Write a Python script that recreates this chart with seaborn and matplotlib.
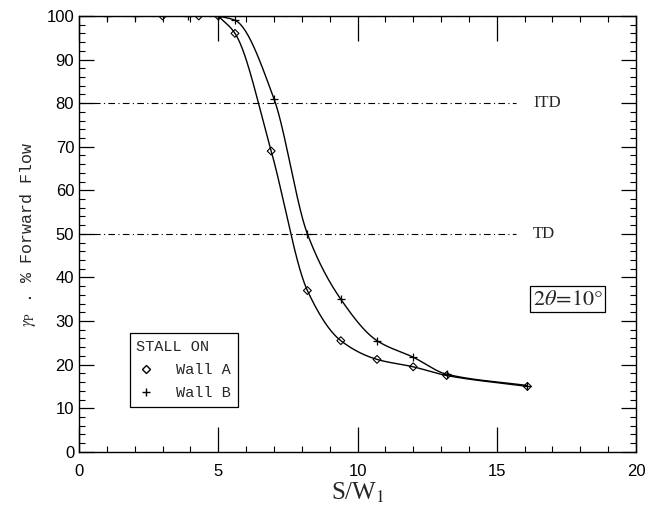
import numpy as np
import pandas as pd
import seaborn as sns
import matplotlib.pyplot as plt
from matplotlib.ticker import MultipleLocator

xa = [3.0, 4.3, 5.0, 5.6, 6.9, 8.2, 9.4, 10.7, 12.0, 13.2, 16.1]
ya = [100, 100, 100, 96, 69, 37, 25.5, 21.2, 19.5, 17.5, 15.0]
xb = [1.0, 2.0, 3.9, 5.0, 5.6, 7.0, 8.2, 9.4, 10.7, 12.0, 13.2, 16.1]
yb = [100, 100, 100, 100, 99, 81, 50, 35, 25.5, 21.7, 17.8, 15.2]

ref_levels = [80, 50]
ref_labels = ["ITD", "TD"]


def pchip(x, y, n=400):
    # monotone cubic for drawing the smooth curve through the points
    x = np.asarray(x, float); y = np.asarray(y, float)
    h = np.diff(x); d = np.diff(y) / h
    m = np.zeros_like(x)
    for k in range(1, len(x) - 1):
        if d[k - 1] * d[k] > 0:
            w1 = 2 * h[k] + h[k - 1]; w2 = h[k] + 2 * h[k - 1]
            m[k] = (w1 + w2) / (w1 / d[k - 1] + w2 / d[k])
    m[0] = d[0]; m[-1] = d[-1]
    xs = np.linspace(x[0], x[-1], n)
    i = np.clip(np.searchsorted(x, xs) - 1, 0, len(h) - 1)
    t = (xs - x[i]) / h[i]
    h00 = 2*t**3 - 3*t**2 + 1; h10 = t**3 - 2*t**2 + t
    h01 = -2*t**3 + 3*t**2; h11 = t**3 - t**2
    ys = h00*y[i] + h10*h[i]*m[i] + h01*y[i+1] + h11*h[i]*m[i+1]
    return xs, ys


sns.set_style("ticks")
plt.rcParams["font.family"] = ["Liberation Sans", "DejaVu Sans"]
plt.rcParams["mathtext.fontset"] = "stix"

fig = plt.figure(figsize=(6.53, 5.14), dpi=100)
ax = fig.add_axes([0.121, 0.121, 0.853, 0.848])

# curves start where the points leave 100 %
for xs, ys, k in (xa, ya, 2), (xb, yb, 3):
    sx, sy = pchip(xs[k:], ys[k:])
    sns.lineplot(x=sx, y=sy, ax=ax, color="black", lw=1.0, sort=False, estimator=None)

sns.scatterplot(x=xa, y=ya, marker="D", s=16, facecolor="none", edgecolor="black",
                linewidth=0.8, ax=ax, zorder=5)
sns.scatterplot(x=xb, y=yb, marker="+", s=40, color="black", linewidth=0.9, ax=ax, zorder=5)

for lev, lab in zip([100] + ref_levels, [""] + ref_labels):
    ax.plot([0, 15.7], [lev, lev], color="black", lw=0.8, ls=(0, (6, 3, 1, 3)))
    if lab:
        ax.text(16.3, lev, lab, family="Liberation Serif", fontsize=12, va="center")

ax.text(17.55, 35, r"$2\theta\!=\!10°$", fontsize=16, ha="center", va="center",
        bbox=dict(boxstyle="square,pad=0.12", fc="white", ec="black", lw=0.9))

h1 = plt.Line2D([], [], ls="none", marker="D", mfc="none", mec="black", ms=4)
h2 = plt.Line2D([], [], ls="none", marker="+", color="black", ms=6)
leg = ax.legend([h1, h2], ["Wall A", "Wall B"], title="STALL ON", loc="upper left",
                bbox_to_anchor=(0.077, 0.29), fancybox=False, framealpha=1,
                edgecolor="black", alignment="left", handlelength=1.2, handletextpad=1.4,
                prop={"family": "Liberation Mono", "size": 11}, borderpad=0.45, labelspacing=0.6)
leg.get_title().set_family("Liberation Mono")
leg.get_title().set_fontsize(11)
leg.get_frame().set_linewidth(0.9)

ax.set_xlim(0, 20)
ax.set_ylim(0, 100)
ax.xaxis.set_major_locator(MultipleLocator(5))
ax.xaxis.set_minor_locator(MultipleLocator(1))
ax.yaxis.set_major_locator(MultipleLocator(10))
ax.yaxis.set_minor_locator(MultipleLocator(2))
ax.tick_params(which="both", direction="in", top=True, right=True, labelsize=12, colors="black")
ax.tick_params(axis="x", which="major", length=18, width=0.9)
ax.tick_params(axis="y", which="major", length=11, width=0.9)
ax.tick_params(which="minor", length=4, width=0.8)
ax.tick_params(axis="x", pad=9)
for s in ax.spines.values():
    s.set_linewidth(1.0)
    s.set_color("black")

ax.set_xlabel(r"S/W$_1$", family="Liberation Serif", fontsize=18, labelpad=1)
ax.set_ylabel(r"$\gamma_{\rm P}$ . % Forward Flow", family="Liberation Mono", fontsize=12, labelpad=6)

fig.savefig("out.png", dpi=100)
